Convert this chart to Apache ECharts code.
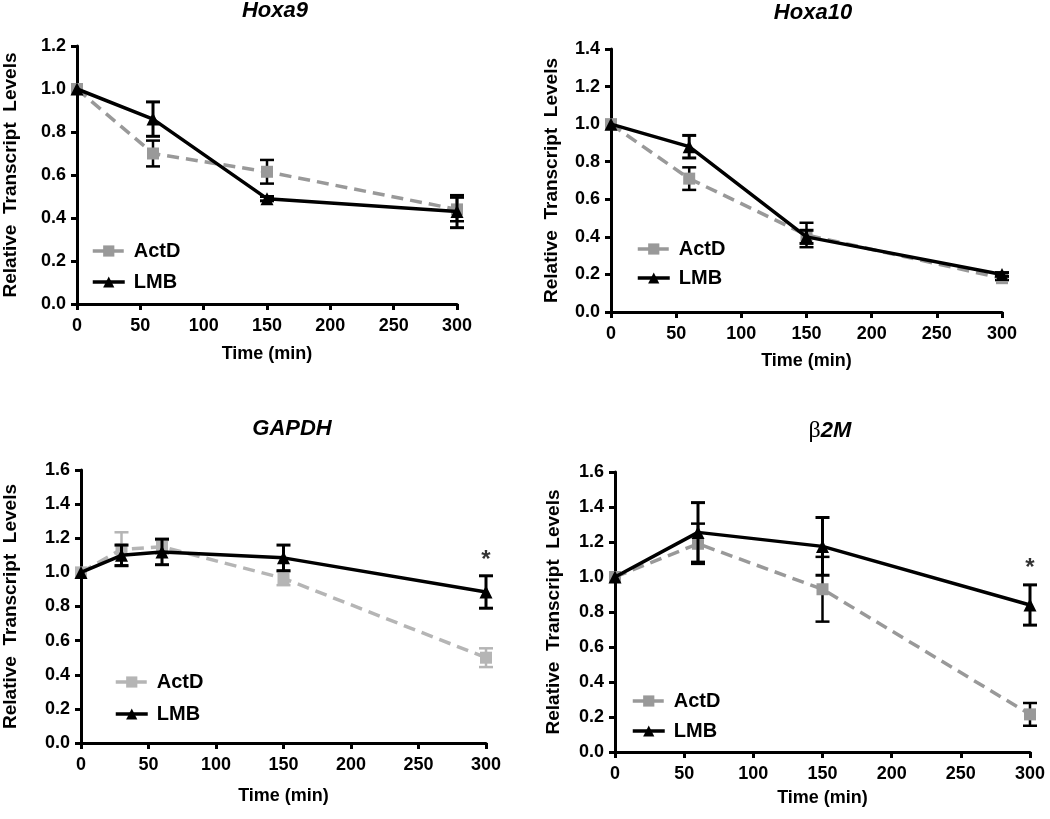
<!DOCTYPE html>
<html>
<head>
<meta charset="utf-8">
<script src="https://cdn.jsdelivr.net/npm/echarts@6/dist/echarts.min.js"></script>
<style>
html,body{margin:0;padding:0;background:#fff;}
#chart{width:1050px;height:819px;}
</style>
</head>
<body>
<div id="chart"></div>
<script>
// ---------- data ----------
const xTicks = [0, 50, 100, 150, 200, 250, 300];

const hoxa9Time = [0, 60, 150, 300];
const hoxa9ActD = [1.0, 0.70, 0.615, 0.44];
const hoxa9ActDErr = [0, 0.06, 0.055, 0.055];
const hoxa9LMB = [1.0, 0.86, 0.49, 0.43];
const hoxa9LMBErr = [0, 0.08, 0.01, 0.075];

const hoxa10Time = [0, 60, 150, 300];
const hoxa10ActD = [1.0, 0.71, 0.41, 0.18];
const hoxa10ActDErr = [0, 0.06, 0.065, 0.01];
const hoxa10LMB = [1.0, 0.88, 0.40, 0.20];
const hoxa10LMBErr = [0, 0.06, 0.035, 0.01];

const gapdhTime = [0, 30, 60, 150, 300];
const gapdhActD = [1.0, 1.135, 1.15, 0.965, 0.50];
const gapdhActDErr = [0, 0.10, 0.04, 0.04, 0.055];
const gapdhLMB = [1.0, 1.10, 1.12, 1.085, 0.885];
const gapdhLMBErr = [0, 0.06, 0.075, 0.075, 0.095];
const gapdhStar = [[300, 1.07]];

const b2mTime = [0, 60, 150, 300];
const b2mActD = [1.0, 1.19, 0.93, 0.215];
const b2mActDErr = [0, 0.115, 0.185, 0.065];
const b2mLMB = [1.0, 1.255, 1.175, 0.84];
const b2mLMBErr = [0, 0.17, 0.165, 0.115];
const b2mStar = [[300, 1.05]];

const yMax = [1.2, 1.4, 1.6, 1.6];

// ---------- layout / style ----------
const FONT = '"Liberation Sans", Arial, sans-serif';
const panels = [
  {left:74, top:46, width:383, height:258, xGap:41, yGap:57, title:'Hoxa9', tx:270, ty:-5,
   legTop:236, legLeft:86, legGap:11, actdColor:'#999999', actdErr:'#000000',
   time:hoxa9Time, actd:hoxa9ActD, actdE:hoxa9ActDErr, lmb:hoxa9LMB, lmbE:hoxa9LMBErr, star:null},
  {left:611, top:49, width:391, height:263, xGap:40, yGap:50, title:'Hoxa10', tx:808, ty:-3,
   legTop:234, legLeft:631, legGap:9, actdColor:'#999999', actdErr:'#000000',
   time:hoxa10Time, actd:hoxa10ActD, actdE:hoxa10ActDErr, lmb:hoxa10LMB, lmbE:hoxa10LMBErr, star:null},
  {left:79, top:470, width:407, height:273, xGap:44, yGap:61, title:'GAPDH', tx:287, ty:413,
   legTop:667, legLeft:109, legGap:12, actdColor:'#b5b5b5', actdErr:'#b5b5b5',
   time:gapdhTime, actd:gapdhActD, actdE:gapdhActDErr, lmb:gapdhLMB, lmbE:gapdhLMBErr, star:gapdhStar},
  {left:615, top:472, width:415, height:280, xGap:37, yGap:52, title:'b2M', tx:825, ty:414,
   legTop:686, legLeft:626, legGap:10, actdColor:'#999999', actdErr:'#000000',
   time:b2mTime, actd:b2mActD, actdE:b2mActDErr, lmb:b2mLMB, lmbE:b2mLMBErr, star:b2mStar}
];

function errData(t, v, e){ return t.map((x,i)=>[x, v[i], e[i]]); }
function pairs(t, v){ return t.map((x,i)=>[x, v[i]]); }

function errRender(color, w){
  return function(params, api){
    const x = api.value(0), y = api.value(1), e = api.value(2);
    if (!e) return {type:'group', children:[]};
    const top = api.coord([x, y + e]);
    const bot = api.coord([x, y - e]);
    const cap = 7;
    const st = {stroke: color, lineWidth: w};
    return {type:'group', children:[
      {type:'line', shape:{x1:top[0], y1:top[1], x2:bot[0], y2:bot[1]}, style:st},
      {type:'line', shape:{x1:top[0]-cap, y1:top[1], x2:top[0]+cap, y2:top[1]}, style:st},
      {type:'line', shape:{x1:bot[0]-cap, y1:bot[1], x2:bot[0]+cap, y2:bot[1]}, style:st}
    ]};
  };
}

const grid = [], xAxis = [], yAxis = [], series = [], legend = [], title = [];
const axisLine = {show:true, lineStyle:{color:'#000', width:3}};
const axisTick = {show:true, inside:false, length:6, lineStyle:{color:'#000', width:3}};
const labelStyle = {color:'#000', fontFamily:FONT, fontWeight:'bold', fontSize:18};

panels.forEach((p, i) => {
  grid.push({left:p.left, top:p.top, width:p.width, height:p.height, containLabel:false});
  xAxis.push({type:'value', gridIndex:i, min:0, max:300, interval:50,
    axisLine, axisTick, splitLine:{show:false},
    axisLabel:Object.assign({margin:13, showMaxLabel:true, showMinLabel:true}, labelStyle),
    name:'Time (min)', nameLocation:'middle', nameGap:p.xGap,
    nameTextStyle:Object.assign({}, labelStyle, {fontSize:18})});
  yAxis.push({type:'value', gridIndex:i, min:0, max:yMax[i], interval:0.2,
    axisLine, axisTick, splitLine:{show:false},
    axisLabel:Object.assign({margin:11, formatter:v=>v.toFixed(1)}, labelStyle),
    name:'Relative  Transcript  Levels', nameLocation:'middle', nameGap:p.yGap,
    nameTextStyle:Object.assign({}, labelStyle, {fontSize:19})});

  series.push({name:'ActD err '+i, type:'custom', xAxisIndex:i, yAxisIndex:i, z:2,
    renderItem: errRender(p.actdErr, 2.5), data: errData(p.time, p.actd, p.actdE), silent:true});
  series.push({name:'ActD', type:'line', xAxisIndex:i, yAxisIndex:i, z:3,
    data: pairs(p.time, p.actd), symbol:'rect', symbolSize:12, showAllSymbol:true,
    lineStyle:{color:p.actdColor, width:3.5, type:[12,7]}, itemStyle:{color:p.actdColor},
    animation:false});
  series.push({name:'LMB err '+i, type:'custom', xAxisIndex:i, yAxisIndex:i, z:4,
    renderItem: errRender('#000', 3), data: errData(p.time, p.lmb, p.lmbE), silent:true});
  series.push({name:'LMB', type:'line', xAxisIndex:i, yAxisIndex:i, z:5,
    data: pairs(p.time, p.lmb), symbol:'triangle', symbolSize:13,
    lineStyle:{color:'#000', width:3.5}, itemStyle:{color:'#000'}, animation:false});
  if (p.star) {
    series.push({name:'sig '+i, type:'scatter', xAxisIndex:i, yAxisIndex:i, z:6,
      data: p.star, symbolSize:0.1, itemStyle:{color:'transparent'},
      label:{show:true, position:'inside', formatter:'*', color:'#000', fontFamily:FONT, fontWeight:'bold', fontSize:24}});
  }

  legend.push({orient:'vertical', left:p.legLeft, top:p.legTop, itemWidth:32, itemHeight:14, itemGap:p.legGap,
    textStyle:{color:'#000', fontFamily:FONT, fontWeight:'bold', fontSize:20, lineHeight:20, padding:[0,0,0,4]},
    data:[{name:'ActD', itemStyle:{color:p.actdColor}, lineStyle:{color:p.actdColor, width:3.5}},
          {name:'LMB', itemStyle:{color:'#000'}, lineStyle:{color:'#000', width:3.5}}],
    selectedMode:false});

  const isB = p.title === 'b2M';
  title.push({text: isB ? '{a|\u03B2}{b|2M}' : p.title, left:p.tx, top:p.ty, textAlign:'center',
    textStyle:{color:'#000', fontFamily:FONT, fontWeight:'bold', fontStyle:'italic', fontSize:22,
      rich: isB ? {a:{fontFamily:'"Liberation Serif", serif', fontWeight:'normal', fontStyle:'normal', fontSize:24, color:'#000'},
                   b:{fontFamily:FONT, fontWeight:'bold', fontStyle:'italic', fontSize:22, color:'#000'}} : undefined}});
});

const chart = echarts.init(document.getElementById('chart'), null, {renderer:'canvas'});
chart.setOption({animation:false, backgroundColor:'#fff', title, grid, xAxis, yAxis, legend, series});
</script>
</body>
</html>
